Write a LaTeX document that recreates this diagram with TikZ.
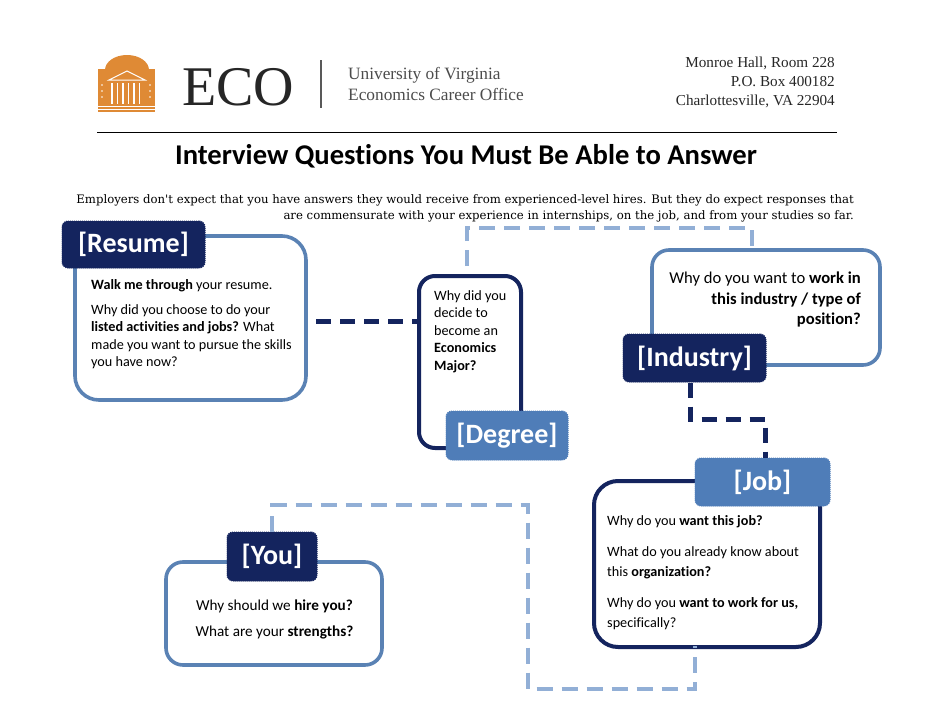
\documentclass[tikz,border=0pt]{standalone}
\usepackage{fontspec}
\setmainfont{Carlito}[Ligatures=NoCommon]
\newfontfamily\headserif{Liberation Serif}
\newfontfamily\introserif{DejaVu Serif}
\definecolor{ecoorange}{HTML}{DF8A35}
\definecolor{econavy}{HTML}{14245E}
\definecolor{ecoblue}{HTML}{4F7DB8}
\definecolor{ecoline}{HTML}{5A82B4}
\definecolor{ecolight}{HTML}{92AFD6}
\tikzset{
	qbox/.style={draw=ecoline, fill=white, line width=3.6pt, rounded corners=24pt, inner sep=0pt},
	qboxdark/.style={qbox, draw=econavy, line width=4pt},
	tagdark/.style={fill=econavy, draw=econavy, densely dotted, line width=1pt, rounded corners=6pt, text=white, inner sep=0pt,
		font=\fontsize{28}{30}\selectfont\bfseries},
	tagblue/.style={tagdark, fill=ecoblue, draw=ecoblue},
	qtext/.style={inner sep=0pt, font=\fontsize{14.2}{17.5}\selectfont},
	linkdark/.style={draw=econavy, line width=5pt, dash pattern=on 15pt off 9pt},
	linklight/.style={draw=ecolight, line width=4.5pt, dash pattern=on 16pt off 9pt},
}
\begin{document}
\begin{tikzpicture}[x=1pt,y=-1pt]
	\useasboundingbox (0,0) rectangle (935,723);

	% 1. letterhead
	\fill[ecoorange] (105,70) arc[x radius=22pt, y radius=15pt, start angle=180, end angle=0] -- cycle;
	\fill[ecoorange] (98,69) rectangle (155,112);
	\draw[white, line width=1pt] (109,80) -- (127,71) -- (145,80) -- cycle;
	\foreach \x in {112,117.5,...,143}
		\draw[white, line width=1.2pt] (\x,83) -- (\x,104);
	\foreach \y in {106,109}
		\draw[white, line width=0.8pt] (98,\y) -- (155,\y);
	\foreach \x in {102,150}
		\foreach \y in {85,91,97}
			\fill[white] (\x,\y) circle (0.9);
	\node (eco) [anchor=base west, inner sep=0pt, text=black!85, font=\headserif\fontsize{56}{56}\selectfont] at (182,105) {ECO};
	\draw[black!65, line width=1.2pt] (321,60) -- (321,108);
	\node (office) [anchor=west, inner sep=0pt, align=left, text=black!70, font=\headserif\fontsize{17.3}{21}\selectfont] at (348,84)
		{University of Virginia\\Economics Career Office};
	\node (address) [anchor=east, inner sep=0pt, align=right, text=black!85, font=\headserif\fontsize{15.2}{19}\selectfont] at (835,82)
		{Monroe Hall, Room 228\\P.O. Box 400182\\Charlottesville, VA 22904};
	\draw[black, line width=0.8pt] (97,132) -- (837,132);
	\node (title) [inner sep=0pt, font=\fontsize{28.6}{30}\selectfont\bfseries] at (466,156) {Interview Questions You Must Be Able to Answer};
	\node (intro) [anchor=east, inner sep=0pt, align=right, font=\introserif\fontsize{11.7}{16}\selectfont] at (854,208)
		{Employers don't expect that you have answers they would receive from experienced-level hires. But they do expect responses that\\
		are commensurate with your experience in internships, on the job, and from your studies so far.};

	% 2. question boxes
	\node (resumebox) [qbox, minimum width=231pt, minimum height=164pt] at (190.5,318) {};
	\node (degreebox) [qboxdark, minimum width=102pt, minimum height=172pt, rounded corners=16pt] at (470,362) {};
	\node (industrybox) [qbox, minimum width=228pt, minimum height=115pt, rounded corners=17pt] at (766,307.5) {};
	\node (jobbox) [qboxdark, minimum width=226pt, minimum height=166pt] at (707,564) {};
	\node (youbox) [qbox, minimum width=216pt, minimum height=103pt, rounded corners=17pt] at (274,613.5) {};

	% 3. tags sitting on the box edges
	\node (resumetag) [tagdark, minimum width=143pt, minimum height=47pt] at (133.5,244.5) {[Resume]};
	\node (degreetag) [tagblue, minimum width=122pt, minimum height=49pt] at (507,435.5) {[Degree]};
	\node (industrytag) [tagdark, minimum width=143pt, minimum height=48pt] at (694.5,358) {[Industry]};
	\node (jobtag) [tagblue, minimum width=135pt, minimum height=48pt] at (762.5,482) {[Job]};
	\node (youtag) [tagdark, minimum width=90pt, minimum height=49pt] at (272,556.5) {[You]};

	% 4. questions
	\node (resumetext) [qtext, anchor=north west, align=left] at (91,279)
		{\textbf{Walk me through} your resume.\\[7.5pt]
		Why did you choose to do your\\
		\textbf{listed activities and jobs?} What\\
		made you want to pursue the skills\\
		you have now?};
	\node (degreetext) [qtext, anchor=north west, align=left] at (434,290)
		{Why did you\\decide to\\become an\\\textbf{Economics}\\\textbf{Major?}};
	\node (industrytext) [qtext, anchor=north east, align=right, font=\fontsize{16.6}{20.5}\selectfont] at (861,272)
		{Why do you want to \textbf{work in}\\
		\textbf{this industry / type of}\\
		\textbf{position?}};
	\node (jobtext) [qtext, anchor=north west, align=left, font=\fontsize{14.2}{19.5}\selectfont] at (607,515)
		{Why do you \textbf{want this job?}\\[12pt]
		What do you already know about\\
		this \textbf{organization?}\\[12pt]
		Why do you \textbf{want to work for us,}\\
		specifically?};
	\node (youtext) [qtext, align=center, font=\fontsize{15.2}{26}\selectfont] at (274.5,619)
		{Why should we \textbf{hire you?}\\What are your \textbf{strengths?}};

	% 5. dashed links, bends kept as coordinates
	\coordinate (bendA) at (467,228);
	\coordinate (bendB) at (752,228);
	\coordinate (bendC) at (690,419);
	\coordinate (bendD) at (765,419);
	\coordinate (bendE) at (272,505);
	\coordinate (bendF) at (528,505);
	\coordinate (bendG) at (528,689);
	\coordinate (bendH) at (695,689);
	\coordinate (resumeout) at (316,321);
	\draw[linkdark] (resumeout) -- (degreebox.west |- resumeout);
	\draw[linklight] (degreebox.north -| bendA) ++(0,-8) -- (bendA) -- (bendB) -- ([yshift=-4pt]industrybox.north -| bendB);
	\draw[linkdark] (industrytag.south -| bendC) -- (bendC) -- (bendD) -- (jobtag.north -| bendD);
	\draw[linklight] (youtag.north -| bendE) -- (bendE) -- (bendF) -- (bendG) -- (bendH) -- ([yshift=3pt]jobbox.south -| bendH);
\end{tikzpicture}
\end{document}
